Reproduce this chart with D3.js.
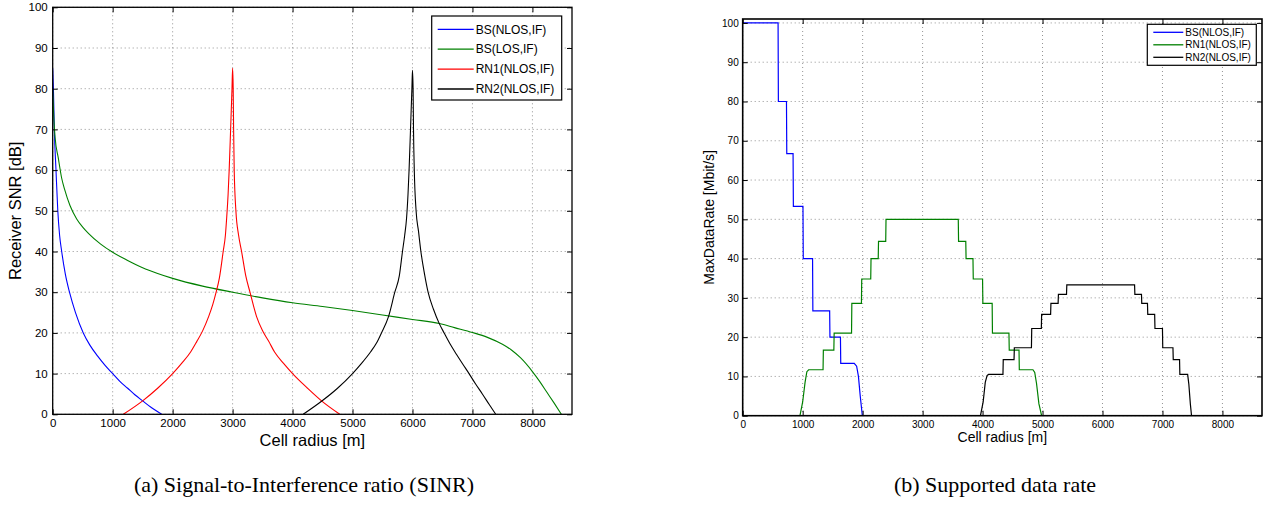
<!DOCTYPE html>
<html>
  <head>
    <title>SINR and supported data rate</title>
    <script src="https://d3js.org/d3.v7.min.js"></script>
    <style>
      body { margin: 0; background: #fff; }
      text { font-family: "Liberation Sans", Arial, Helvetica, sans-serif; }
      .caption { font-family: "Liberation Serif", "Times New Roman", serif; }
      .grid line { stroke: #777; stroke-dasharray: 1,3; stroke-width: 0.8; }
    </style>
  </head>
  <body>
    <script>
      // (a) SINR curves: [radius m, SNR dB]
      var bsNlosSnr = [[0,85],[12,80],[27,70],[55,60],[85,50],[115,44],[150,40],[210,34.5],[280,30],[380,25],[510,20],[620,17],[750,14.3],[870,12.1],[1000,10],[1120,8.1],[1250,6.4],[1370,4.8],[1500,3.3],[1650,1.6],[1817,0]];
      var bsLosSnr = [[0,80],[10,76],[20,72.5],[40,68],[93,63],[150,58],[200,55.2],[288,51.3],[400,48],[500,46],[600,44.4],[800,41.8],[1000,39.8],[1250,37.8],[1500,36],[1750,34.6],[2000,33.4],[2500,31.5],[3000,30],[3500,28.6],[4000,27.4],[4500,26.5],[5000,25.5],[5500,24.4],[6000,23.3],[6450,22.3],[6700,21.3],[7000,20.1],[7250,18.9],[7500,17.2],[7650,15.8],[7800,13.9],[8000,10.5],[8120,8.1],[8233,5.6],[8360,2.8],[8483,0]];
      var rn1NlosSnr = [[1177,0],[1500,3.3],[1750,6.4],[2000,10],[2150,12.5],[2300,15.3],[2400,17.8],[2500,20.5],[2600,24],[2670,27],[2720,29.7],[2780,33.5],[2843,40],[2880,44],[2900,48],[2925,54],[2943,60],[2967,70],[2990,80],[3000,85],[3010,80],[3017,70],[3027,60],[3055,50],[3100,44],[3150,40],[3220,34],[3290,30],[3400,24],[3500,20.5],[3600,18],[3700,15.3],[3850,12.5],[4000,10],[4250,6.4],[4483,3.3],[4788,0]];
      var rn2NlosSnr = [[4177,0],[4483,3.2],[4750,6.4],[5000,10],[5150,12.5],[5300,15.3],[5400,17.5],[5483,20],[5600,24],[5705,30],[5780,34],[5833,40],[5870,44],[5900,48],[5925,54],[5943,60],[5967,70],[5990,80],[6000,84.5],[6010,80],[6017,70],[6030,60],[6060,50],[6100,45],[6140,40],[6200,34.5],[6260,30],[6350,25.8],[6443,22.4],[6527,20],[6630,17.2],[6735,14.7],[6840,12.3],[6943,10],[7050,7.5],[7165,5],[7280,2.4],[7388,0]];

      // (b) max data rate, [radius m, Mbit/s]
      var bsNlosRate = [[0,100],[590,100],[595,80],[730,80],[735,66.7],[840,66.7],[845,53.3],[1005,53.3],[1010,40],[1165,40],[1170,26.7],[1450,26.7],[1455,20],[1630,20],[1635,13.3],[1860,13.3],[1900,12.6],[1930,10],[1960,5],[1995,0],[8660,0]];
      var rn1NlosRate = [[0,0],[955,0],[1000,3.5],[1040,8.5],[1070,11.2],[1100,11.7],[1340,11.7],[1345,16.7],[1520,16.7],[1525,21],[1815,21],[1820,28.6],[1980,28.6],[1985,34.8],[2135,34.8],[2140,40],[2260,40],[2265,44.4],[2385,44.4],[2390,50],[3595,50],[3600,44.4],[3720,44.4],[3725,40],[3840,40],[3845,34.8],[4000,34.8],[4005,28.6],[4160,28.6],[4165,21],[4440,21],[4445,16.7],[4608,16.7],[4613,11.7],[4840,11.7],[4870,11],[4900,8.2],[4940,3],[4985,0],[8660,0]];
      var rn2NlosRate = [[0,0],[3965,0],[4010,3.5],[4045,8.5],[4075,10.2],[4100,10.5],[4340,10.5],[4345,14.3],[4525,14.3],[4530,17.3],[4815,17.3],[4820,22.2],[4980,22.2],[4985,25.8],[5135,25.8],[5140,28.6],[5260,28.6],[5265,30.9],[5400,30.9],[5405,33.3],[6535,33.3],[6540,30.9],[6650,30.9],[6655,28.6],[6750,28.6],[6755,25.8],[6870,25.8],[6875,22.2],[7000,22.2],[7005,17.3],[7175,17.3],[7180,14.3],[7285,14.3],[7290,10.5],[7420,10.5],[7440,8],[7465,3],[7485,0],[8660,0]];

      var xTicks = [0,1000,2000,3000,4000,5000,6000,7000,8000];
      var yTicks = [0,10,20,30,40,50,60,70,80,90,100];

      var snrSeries = [
        {name: "BS(NLOS,IF)", color: "#0000ff", values: bsNlosSnr},
        {name: "BS(LOS,IF)", color: "#008000", values: bsLosSnr},
        {name: "RN1(NLOS,IF)", color: "#ff0000", values: rn1NlosSnr},
        {name: "RN2(NLOS,IF)", color: "#000000", values: rn2NlosSnr}
      ];
      var rateSeries = [
        {name: "BS(NLOS,IF)", color: "#0000ff", values: bsNlosRate},
        {name: "RN1(NLOS,IF)", color: "#008000", values: rn1NlosRate},
        {name: "RN2(NLOS,IF)", color: "#000000", values: rn2NlosRate}
      ];

      var width = 1271;
      var height = 508;

      var svg = d3.select("body")
        .append("svg")
        .attr("width",width)
        .attr("height",height);

      function drawPanel(opt) {
        var x = d3.scaleLinear().domain([0,8660]).range([opt.left, opt.right]);
        var y = d3.scaleLinear().domain([0,opt.yMax]).range([opt.bottom, opt.top]);
        var g = svg.append("g");

        g.append("clipPath").attr("id", opt.id + "clip")
          .append("rect")
          .attr("x",opt.left).attr("y",opt.top)
          .attr("width",opt.right-opt.left).attr("height",opt.bottom-opt.top);

        // dotted grid
        g.append("g").attr("class","grid")
          .selectAll("line").data(xTicks).enter().append("line")
          .attr("x1",d => x(d)).attr("x2",d => x(d))
          .attr("y1",opt.top).attr("y2",opt.bottom);
        g.append("g").attr("class","grid")
          .selectAll("line").data(yTicks).enter().append("line")
          .attr("y1",d => y(d)).attr("y2",d => y(d))
          .attr("x1",opt.left).attr("x2",opt.right);

        var line = d3.line()
          .x(d => x(d[0]))
          .y(d => y(d[1]))
          .curve(opt.curve);

        g.append("g").attr("clip-path","url(#" + opt.id + "clip)")
          .selectAll("path").data(opt.series).enter().append("path")
          .attr("d",d => line(d.values))
          .attr("fill","none")
          .attr("stroke",d => d.color)
          .attr("stroke-width",opt.lineWidth);

        var fs = opt.tickFont + "px";
        var fmt = d3.format("d");
        var bottomAxis = g.append("g")
          .attr("transform",`translate(0,${opt.bottom})`)
          .call(d3.axisBottom(x).tickValues(xTicks).tickSize(-5).tickSizeOuter(0).tickPadding(opt.xPad).tickFormat(fmt));
        var topAxis = g.append("g")
          .attr("transform",`translate(0,${opt.top})`)
          .call(d3.axisTop(x).tickValues(xTicks).tickSize(-5).tickSizeOuter(0).tickFormat(""));
        var leftAxis = g.append("g")
          .attr("transform",`translate(${opt.left},0)`)
          .call(d3.axisLeft(y).tickValues(yTicks).tickSize(-5).tickSizeOuter(0).tickPadding(opt.yPad).tickFormat(fmt));
        var rightAxis = g.append("g")
          .attr("transform",`translate(${opt.right},0)`)
          .call(d3.axisRight(y).tickValues(yTicks).tickSize(-5).tickSizeOuter(0).tickFormat(""));
        [bottomAxis, topAxis, leftAxis, rightAxis].forEach(function(a) {
          a.select(".domain").remove();
          a.selectAll("line").attr("stroke","#000");
          a.selectAll("text")
            .attr("fill","#000")
            .style("font-size",fs)
            .style("font-family","'Liberation Sans', Arial, sans-serif");
        });

        g.append("rect")
          .attr("x",opt.left).attr("y",opt.top)
          .attr("width",opt.right-opt.left).attr("height",opt.bottom-opt.top)
          .attr("fill","none").attr("stroke","#000").attr("stroke-width",opt.boxWidth);

        g.append("text")
          .attr("x",(opt.left+opt.right)/2)
          .attr("y",opt.xLabelY)
          .attr("text-anchor","middle")
          .style("font-size",opt.labelFont + "px")
          .text("Cell radius [m]");

        g.append("text")
          .attr("transform","rotate(-90)")
          .attr("x",-(opt.top+opt.bottom)/2)
          .attr("y",opt.yLabelX)
          .attr("text-anchor","middle")
          .style("font-size",opt.labelFont + "px")
          .text(opt.yLabel);

        // legend
        var lg = opt.legend;
        g.append("rect")
          .attr("x",lg.x).attr("y",lg.y)
          .attr("width",lg.w).attr("height",lg.h)
          .attr("fill","#fff").attr("stroke","#000").attr("stroke-width",1.2);
        var items = g.selectAll(".lg" + opt.id).data(opt.series).enter().append("g");
        items.append("line")
          .attr("x1",lg.x + lg.lineStart).attr("x2",lg.x + lg.lineEnd)
          .attr("y1",(d,i) => lg.y + lg.first + i*lg.step)
          .attr("y2",(d,i) => lg.y + lg.first + i*lg.step)
          .attr("stroke",d => d.color).attr("stroke-width",1.3);
        items.append("text")
          .attr("x",lg.x + lg.lineEnd + 2)
          .attr("y",(d,i) => lg.y + lg.first + i*lg.step)
          .attr("dy","0.35em")
          .style("font-size",lg.font + "px")
          .text(d => d.name);

        svg.append("text")
          .attr("class","caption")
          .attr("x",opt.captionX)
          .attr("y",492)
          .attr("text-anchor","middle")
          .style("font-size","22px")
          .text(opt.caption);
      }

      drawPanel({
        id: "a", left: 52.7, right: 572, top: 7.3, bottom: 414.3, yMax: 100,
        series: snrSeries, curve: d3.curveMonotoneX, lineWidth: 1.1, boxWidth: 1.3,
        tickFont: 11.5, xPad: 5, yPad: 5, labelFont: 16.5,
        xLabelY: 446, yLabelX: 21, yLabel: "Receiver SNR [dB]",
        legend: {x: 431.7, y: 16, w: 130, h: 84, lineStart: 6, lineEnd: 42, first: 13.3, step: 19.9, font: 12},
        caption: "(a) Signal-to-Interference ratio (SINR)", captionX: 304
      });

      drawPanel({
        id: "b", left: 742.7, right: 1262, top: 19, bottom: 415.7, yMax: 101,
        series: rateSeries, curve: d3.curveLinear, lineWidth: 1.2, boxWidth: 1.6,
        tickFont: 10, xPad: 5, yPad: 4, labelFont: 14,
        xLabelY: 442, yLabelX: 714, yLabel: "MaxDataRate [Mbit/s]",
        legend: {x: 1147.3, y: 24.3, w: 109, h: 41, lineStart: 6, lineEnd: 36, first: 8, step: 12.5, font: 10},
        caption: "(b) Supported data rate", captionX: 995
      });
    </script>
  </body>
</html>
